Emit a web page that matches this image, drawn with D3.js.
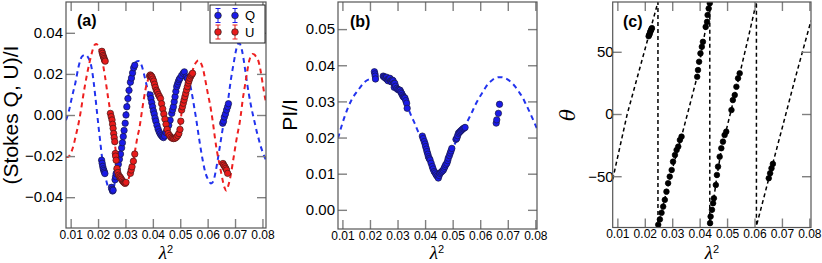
<!DOCTYPE html>
<html><head><meta charset="utf-8">
<script src="https://cdn.jsdelivr.net/npm/d3@7"></script>
<style>body{margin:0;background:#fff} svg{display:block}</style>
</head><body>
<svg id="c" width="822" height="263"></svg>
<script>
// ---------------- DATA ----------------
const xTicks = [0.01,0.02,0.03,0.04,0.05,0.06,0.07,0.08];
const yTicksA = [-0.04,-0.02,0.00,0.02,0.04];
const yTicksB = [0.00,0.01,0.02,0.03,0.04,0.05];
const yTicksC = [-50,0,50];

// model curves
const lamQfit = [0.0083,0.0093,0.0105,0.0117,0.0129,0.0141,0.0153,0.0166,0.0172,0.0178,0.0184,0.0190,0.0196,0.0202,0.0208,0.0214,0.0220,0.0226,0.0232,0.0238,0.0244,0.0250,0.0256,0.0262,0.0268,0.0274,0.0280,0.0286,0.0292,0.0298,0.0304,0.0310,0.0316,0.0322,0.0328,0.0334,0.0340,0.0347,0.0354,0.0360,0.0366,0.0372,0.0378,0.0384,0.0390,0.0396,0.0402,0.0408,0.0414,0.0420,0.0426,0.0432,0.0438,0.0444,0.0450,0.0456,0.0462,0.0468,0.0474,0.0480,0.0486,0.0492,0.0498,0.0504,0.0510,0.0516,0.0522,0.0528,0.0534,0.0540,0.0546,0.0552,0.0558,0.0564,0.0570,0.0576,0.0582,0.0588,0.0594,0.0600,0.0606,0.0612,0.0618,0.0624,0.0630,0.0636,0.0642,0.0648,0.0654,0.0660,0.0666,0.0672,0.0678,0.0684,0.0690,0.0696,0.0702,0.0708,0.0714,0.0720,0.0726,0.0732,0.0738,0.0744,0.0750,0.0756,0.0762,0.0768,0.0774,0.0780,0.0786,0.0792,0.0798,0.0804,0.0813];
const qFit = [-0.0025,0.0016,0.0089,0.0155,0.0236,0.0284,0.0293,0.0275,0.0255,0.0218,0.0160,0.0090,0.0015,-0.0060,-0.0130,-0.0200,-0.0250,-0.0295,-0.0330,-0.0355,-0.0368,-0.0372,-0.0362,-0.0320,-0.0280,-0.0240,-0.0190,-0.0140,-0.0090,-0.0040,0.0020,0.0085,0.0145,0.0190,0.0225,0.0248,0.0260,0.0263,0.0255,0.0238,0.0208,0.0175,0.0140,0.0110,0.0095,0.0060,0.0022,-0.0012,-0.0045,-0.0072,-0.0090,-0.0102,-0.0108,-0.0104,-0.0085,-0.0058,-0.0025,0.0005,0.0040,0.0082,0.0130,0.0160,0.0180,0.0196,0.0206,0.0211,0.0205,0.0188,0.0160,0.0122,0.0078,0.0030,-0.0018,-0.0072,-0.0125,-0.0175,-0.0220,-0.0260,-0.0290,-0.0310,-0.0325,-0.0333,-0.0328,-0.0308,-0.0270,-0.0225,-0.0175,-0.0125,-0.0075,-0.0030,0.0010,0.0050,0.0105,0.0165,0.0215,0.0260,0.0305,0.0338,0.0350,0.0340,0.0310,0.0265,0.0210,0.0155,0.0105,0.0060,0.0020,-0.0015,-0.0050,-0.0085,-0.0115,-0.0145,-0.0170,-0.0192,-0.0220];

const lamUfit = [0.0083,0.0090,0.0097,0.0104,0.0111,0.0118,0.0125,0.0132,0.0139,0.0146,0.0153,0.0160,0.0167,0.0174,0.0181,0.0188,0.0194,0.0200,0.0206,0.0212,0.0218,0.0224,0.0230,0.0236,0.0242,0.0248,0.0254,0.0260,0.0266,0.0272,0.0278,0.0284,0.0290,0.0296,0.0302,0.0308,0.0314,0.0320,0.0326,0.0332,0.0338,0.0344,0.0350,0.0356,0.0362,0.0368,0.0374,0.0380,0.0386,0.0392,0.0398,0.0404,0.0410,0.0416,0.0422,0.0428,0.0434,0.0440,0.0446,0.0452,0.0458,0.0464,0.0470,0.0476,0.0482,0.0488,0.0494,0.0500,0.0506,0.0512,0.0518,0.0524,0.0530,0.0536,0.0542,0.0548,0.0554,0.0560,0.0566,0.0572,0.0578,0.0584,0.0590,0.0596,0.0602,0.0608,0.0614,0.0620,0.0626,0.0632,0.0638,0.0644,0.0650,0.0656,0.0662,0.0668,0.0674,0.0680,0.0686,0.0692,0.0698,0.0704,0.0710,0.0716,0.0722,0.0728,0.0734,0.0740,0.0746,0.0752,0.0758,0.0764,0.0770,0.0776,0.0782,0.0788,0.0794,0.0800,0.0806,0.0813];
const uFit = [-0.0205,-0.0205,-0.0195,-0.0175,-0.0145,-0.0105,-0.0065,-0.0020,0.0035,0.0095,0.0150,0.0200,0.0245,0.0285,0.0320,0.0342,0.0346,0.0337,0.0315,0.0284,0.0245,0.0200,0.0145,0.0090,0.0040,-0.0005,-0.0060,-0.0125,-0.0190,-0.0240,-0.0278,-0.0305,-0.0323,-0.0333,-0.0330,-0.0322,-0.0300,-0.0272,-0.0238,-0.0198,-0.0150,-0.0105,-0.0070,-0.0020,0.0035,0.0085,0.0130,0.0162,0.0183,0.0193,0.0192,0.0180,0.0160,0.0135,0.0105,0.0075,0.0045,0.0015,-0.0015,-0.0045,-0.0072,-0.0092,-0.0105,-0.0110,-0.0108,-0.0098,-0.0080,-0.0045,0.0025,0.0060,0.0095,0.0130,0.0160,0.0185,0.0205,0.0228,0.0248,0.0260,0.0266,0.0262,0.0245,0.0220,0.0180,0.0138,0.0095,0.0057,0.0010,-0.0045,-0.0105,-0.0160,-0.0205,-0.0245,-0.0285,-0.0325,-0.0355,-0.0368,-0.0350,-0.0320,-0.0280,-0.0230,-0.0180,-0.0130,-0.0085,-0.0045,0.0010,0.0075,0.0125,0.0175,0.0225,0.0265,0.0287,0.0297,0.0295,0.0285,0.0275,0.0250,0.0210,0.0160,0.0110,0.0060];

const lamPIfit = [0.0084,0.0108,0.0133,0.0157,0.0181,0.0206,0.0224,0.0242,0.0266,0.0290,0.0303,0.0315,0.0327,0.0339,0.0351,0.0363,0.0375,0.0388,0.0400,0.0412,0.0424,0.0436,0.0448,0.0457,0.0466,0.0484,0.0503,0.0521,0.0539,0.0557,0.0570,0.0582,0.0594,0.0606,0.0618,0.0630,0.0642,0.0654,0.0667,0.0679,0.0691,0.0703,0.0715,0.0727,0.0739,0.0752,0.0764,0.0776,0.0788,0.0800,0.0806];
const piFit = [0.0198,0.0258,0.0304,0.0331,0.0354,0.0364,0.0368,0.0365,0.0356,0.0345,0.0333,0.0318,0.0300,0.0280,0.0258,0.0238,0.0216,0.0202,0.0177,0.0150,0.0126,0.0106,0.0093,0.0098,0.0113,0.0145,0.0175,0.0202,0.0226,0.0250,0.0270,0.0290,0.0307,0.0322,0.0337,0.0350,0.0358,0.0364,0.0367,0.0367,0.0364,0.0359,0.0351,0.0341,0.0328,0.0313,0.0295,0.0276,0.0256,0.0235,0.0224];

const lamThetaFit = [0.0083,0.0136,0.0192,0.0248,0.0248,0.0273,0.0298,0.0334,0.0365,0.0391,0.0412,0.0425,0.0437,0.0437,0.0449,0.0463,0.0479,0.0497,0.0516,0.0546,0.0577,0.0607,0.0607,0.0652,0.0700,0.0750,0.0806];
const thetaFit = [-52.5,0,45,90,-90,-68,-46,-18,8,30,57,72,90,-90,-72,-50,-29,-13,4,32,61,90,-90,-52,-12,30,75];

// observations
const lamQ = [0.0213,0.0215,0.0217,0.0219,0.0221,0.0223,0.0225,0.0249,0.0251,0.0253,0.0255,0.0262,0.0264,0.0266,0.0270,0.0274,0.0278,0.0282,0.0286,0.0289,0.0292,0.0295,0.0299,0.0302,0.0305,0.0309,0.0313,0.0318,0.0322,0.0326,0.0330,0.0334,
  0.0390,0.0393,0.0396,0.0399,0.0402,0.0405,0.0408,0.0411,0.0415,0.0419,0.0423,0.0427,0.0431,0.0435,0.0439,0.0443,0.0448,0.0452,0.0458,0.0463,0.0469,0.0472,0.0475,0.0478,0.0481,0.0484,0.0487,0.0490,0.0493,0.0496,0.0499,0.0505,0.0511,0.0515,0.0522,0.0526,
  0.0655,0.0658,0.0661,0.0665,0.0669,0.0673,0.0676];
const qObs = [-0.0220,-0.0235,-0.0250,-0.0262,-0.0270,-0.0278,-0.0285,-0.0352,-0.0362,-0.0370,-0.0366,-0.0315,-0.0300,-0.0285,-0.0265,-0.0240,-0.0215,-0.0190,-0.0160,-0.0135,-0.0105,-0.0075,-0.0040,0.0000,0.0040,0.0080,0.0120,0.0160,0.0180,0.0205,0.0230,0.0242,
  0.0098,0.0080,0.0060,0.0040,0.0020,0.0005,-0.0015,-0.0030,-0.0050,-0.0068,-0.0082,-0.0092,-0.0100,-0.0106,-0.0110,-0.0102,-0.0085,-0.0070,-0.0050,-0.0025,0.0008,0.0025,0.0040,0.0065,0.0089,0.0115,0.0138,0.0150,0.0162,0.0172,0.0179,0.0192,0.0203,0.0210,0.0185,0.0178,
  -0.0040,-0.0030,-0.0010,0.0005,0.0024,0.0040,0.0055];

const lamU = [0.0214,0.0216,0.0218,0.0220,0.0222,0.0224,0.0226,0.0245,0.0248,0.0251,0.0253,0.0255,0.0257,0.0259,0.0261,0.0263,0.0264,0.0266,0.0269,0.0272,0.0275,0.0279,0.0282,0.0285,0.0289,0.0293,0.0296,0.0299,0.0302,0.0318,0.0321,0.0324,0.0329,0.0334,
  0.0388,0.0391,0.0394,0.0397,0.0400,0.0403,0.0406,0.0409,0.0413,0.0416,0.0420,0.0424,0.0428,0.0432,0.0436,0.0440,0.0444,0.0448,0.0452,0.0456,0.0461,0.0466,0.0471,0.0476,0.0481,0.0486,0.0491,0.0495,0.0499,0.0502,0.0505,0.0508,0.0511,0.0514,0.0517,0.0520,0.0523,0.0526,0.0529,0.0532,0.0535,0.0539,0.0542,0.0545,
  0.0656,0.0659,0.0663,0.0666,0.0669,0.0673];
const uObs = [0.0310,0.0300,0.0290,0.0283,0.0275,0.0268,0.0262,0.0008,-0.0008,-0.0024,-0.0045,-0.0065,-0.0090,-0.0110,-0.0130,-0.0187,-0.0200,-0.0220,-0.0260,-0.0280,-0.0293,-0.0300,-0.0305,-0.0312,-0.0320,-0.0326,-0.0330,-0.0333,-0.0328,-0.0284,-0.0268,-0.0252,-0.0225,-0.0190,
  0.0190,0.0195,0.0190,0.0185,0.0175,0.0165,0.0150,0.0135,0.0120,0.0112,0.0100,0.0090,0.0080,0.0055,0.0030,0.0005,-0.0020,-0.0045,-0.0070,-0.0090,-0.0100,-0.0108,-0.0113,-0.0115,-0.0113,-0.0108,-0.0100,-0.0090,-0.0070,-0.0030,0.0024,0.0040,0.0057,0.0073,0.0089,0.0105,0.0122,0.0138,0.0155,0.0167,0.0179,0.0190,0.0197,0.0203,
  -0.0236,-0.0244,-0.0252,-0.0260,-0.0268,-0.0284];

const lamPI = [0.0216,0.0218,0.0219,0.0220,0.0248,0.0251,0.0254,0.0257,0.0260,0.0263,0.0266,0.0269,0.0272,0.0275,0.0278,0.0281,0.0284,0.0287,0.0288,0.0290,0.0293,0.0297,0.0301,0.0305,0.0309,0.0312,0.0315,0.0318,0.0321,0.0324,0.0327,0.0330,0.0333,0.0335,
  0.0390,0.0393,0.0397,0.0400,0.0402,0.0405,0.0407,0.0410,0.0412,0.0415,0.0418,0.0422,0.0426,0.0429,0.0433,0.0437,0.0440,0.0444,0.0448,0.0451,0.0454,0.0458,0.0462,0.0466,0.0469,0.0472,0.0475,0.0479,0.0482,0.0484,0.0488,0.0491,0.0494,0.0497,0.0512,0.0515,0.0518,0.0521,0.0525,0.0529,0.0533,0.0537,0.0541,0.0545,
  0.0658,0.0660,0.0666,0.0670];
const piObs = [0.0382,0.0376,0.0370,0.0362,0.0370,0.0368,0.0366,0.0364,0.0367,0.0360,0.0357,0.0362,0.0364,0.0356,0.0354,0.0359,0.0357,0.0350,0.0339,0.0350,0.0342,0.0336,0.0333,0.0332,0.0331,0.0326,0.0322,0.0317,0.0313,0.0311,0.0309,0.0302,0.0295,0.0281,
  0.0204,0.0197,0.0189,0.0182,0.0175,0.0168,0.0161,0.0154,0.0147,0.0142,0.0138,0.0129,0.0120,0.0113,0.0106,0.0102,0.0097,0.0093,0.0088,0.0095,0.0101,0.0104,0.0107,0.0110,0.0115,0.0120,0.0125,0.0129,0.0136,0.0143,0.0150,0.0157,0.0163,0.0170,0.0195,0.0198,0.0205,0.0212,0.0215,0.0218,0.0221,0.0224,0.0226,0.0228,
  0.0240,0.0249,0.0267,0.0292];

const lamTheta = [0.0214,0.0216,0.0218,0.0220,0.0222,0.0224,0.0226,
  0.0249,0.0255,0.0261,0.0267,0.0273,0.0279,0.0285,0.0291,0.0298,0.0303,0.0310,0.0316,0.0322,0.0328,0.0334,
  0.0391,0.0394,0.0398,0.0403,0.0408,0.0412,0.0422,0.0427,0.0429,0.0433,0.0437,
  0.0438,0.0440,0.0445,0.0449,0.0452,0.0459,0.0463,0.0467,0.0473,0.0479,0.0485,0.0491,0.0497,
  0.0516,0.0521,0.0528,0.0534,0.0540,0.0546,
  0.0652,0.0657,0.0662,0.0667];
const thetaObs = [62.5,63.5,64.5,66,67,68,69,
  -89,-84.7,-79.4,-74.4,-69,-62.4,-55.6,-50.3,-45,-38.3,-32.9,-28.9,-26.2,-20.9,-18.2,
  29.9,35.3,42,48.7,54,58,70,74,79.5,84.8,89,
  -87.7,-82.4,-77,-71.7,-67.7,-57,-49,-42.3,-34.3,-27.5,-22.2,-16.9,-14.2,
  3.2,11.2,15.2,21.9,28.7,32.7,
  -51.6,-47.6,-43.6,-40.1];

const errQU = 0.0012;
const errPI = 0.0008;

// ---------------- DRAWING ----------------
const svg = d3.select('#c');
const FONT = '"Liberation Sans", Arial, Helvetica, sans-serif';
const SERIF = '"Liberation Serif", "DejaVu Serif", serif';
const BLUE = '#1a1ae8', RED = '#e81a1a', BLUE_L = '#2233ee', RED_L = '#ee2020';

function frame(g, x, y, yTicks, fmt, labelOffset) {
  const [x0, x1] = x.range(), [y0, y1] = y.range();
  const tk = 9;
  const tickCol = '#808080';
  const bx = d3.axisBottom(x).tickValues(xTicks).tickSize(-tk).tickPadding(2).tickFormat(d3.format('.2f'));
  const gb = g.append('g').attr('transform', `translate(0,${y0})`).call(bx);
  const tx = d3.axisTop(x).tickValues(xTicks).tickSize(-tk).tickFormat('');
  const gt = g.append('g').attr('transform', `translate(0,${y1})`).call(tx);
  const ly = d3.axisLeft(y).tickValues(yTicks).tickSize(-tk).tickPadding(labelOffset).tickFormat(fmt);
  const gl = g.append('g').attr('transform', `translate(${x0},0)`).call(ly);
  const ry = d3.axisRight(y).tickValues(yTicks).tickSize(-tk).tickFormat('');
  const gr = g.append('g').attr('transform', `translate(${x1},0)`).call(ry);
  [gb, gt, gl, gr].forEach(a => {
    a.select('.domain').remove();
    a.selectAll('.tick line').attr('stroke', tickCol).attr('stroke-width', 1.4);
  });
  gb.selectAll('.tick text').attr('font-family', FONT).attr('font-size', 12).attr('fill', '#000');
  gl.selectAll('.tick text').attr('font-family', FONT).attr('font-size', 15).attr('fill', '#000');
  g.append('rect').attr('x', x0).attr('y', y1).attr('width', x1 - x0).attr('height', y0 - y1)
    .attr('fill', 'none').attr('stroke', '#555').attr('stroke-width', 1.2);
}

function xTitle(g, cx) {
  const t = g.append('text').attr('x', cx).attr('y', 259).attr('text-anchor', 'middle')
    .attr('font-family', SERIF).attr('font-size', 19);
  t.append('tspan').attr('font-style', 'italic').text('λ');
  t.append('tspan').attr('font-family', FONT).attr('font-size', 11).attr('dy', -6).text('2');
}

function clipFor(id, x, y) {
  const [x0, x1] = x.range(), [y0, y1] = y.range();
  svg.append('clipPath').attr('id', id).append('rect').attr('x', x0).attr('y', y1).attr('width', x1 - x0).attr('height', y0 - y1);
}

function fitLine(g, xs, ys, x, y, color, dash, width, curve) {
  const pts = xs.map((d, i) => [d, ys[i]]);
  g.append('path').datum(pts)
    .attr('d', d3.line().x(d => x(d[0])).y(d => y(d[1])).curve(curve))
    .attr('fill', 'none').attr('stroke', color).attr('stroke-width', width).attr('stroke-dasharray', dash);
}

function points(g, xs, ys, x, y, fill, stroke, r, err, errCol) {
  const pts = xs.map((d, i) => [d, ys[i]]);
  if (err) {
    g.append('g').selectAll('path').data(pts).join('path')
      .attr('d', d => `M${x(d[0])},${y(d[1] - err)}V${y(d[1] + err)}`)
      .attr('stroke', errCol).attr('stroke-width', 0.8).attr('fill', 'none');
  }
  g.append('g').selectAll('circle').data(pts).join('circle')
    .attr('cx', d => x(d[0])).attr('cy', d => y(d[1])).attr('r', r)
    .attr('fill', fill).attr('stroke', stroke).attr('stroke-width', 0.7);
}

// ---------- Panel (a) ----------
{
  const x = d3.scaleLinear().domain([0.0083, 0.0813]).range([66, 266]);
  const y = d3.scaleLinear().domain([-0.055, 0.055]).range([228, 2]);
  clipFor('clipA', x, y);
  const g = svg.append('g');
  const gp = g.append('g').attr('clip-path', 'url(#clipA)');
  fitLine(gp, lamQfit, qFit, x, y, BLUE_L, '5,4', 2, d3.curveMonotoneX);
  fitLine(gp, lamUfit, uFit, x, y, RED_L, '5,4', 2, d3.curveMonotoneX);
  points(gp, lamQ, qObs, x, y, BLUE, '#1a1a40', 3.2, errQU, BLUE);
  points(gp, lamU, uObs, x, y, RED, '#401a1a', 3.2, errQU, RED);
  frame(g, x, y, yTicksA, d3.format('.2f'), 3);
  g.append('text').attr('x', 77).attr('y', 26).attr('font-family', FONT).attr('font-weight', 'bold').attr('font-size', 16).text('(a)');
  xTitle(g, 166);
  g.append('text').attr('transform', 'translate(18,115) rotate(-90)').attr('text-anchor', 'middle')
    .attr('font-family', FONT).attr('font-size', 21).text('(Stokes Q, U)/I');
  const lg = g.append('g');
  lg.append('rect').attr('x', 210).attr('y', 5).attr('width', 55).attr('height', 38)
    .attr('fill', '#fff').attr('stroke', '#222').attr('stroke-width', 1);
  const rows = [{k: 'Q', c: BLUE, yy: 15.5}, {k: 'U', c: RED, yy: 32}];
  rows.forEach(r => {
    [218, 235].forEach(px => {
      lg.append('path').attr('d', `M${px},${r.yy - 7}V${r.yy + 7}M${px - 2.5},${r.yy - 7}H${px + 2.5}M${px - 2.5},${r.yy + 7}H${px + 2.5}`)
        .attr('stroke', r.c).attr('stroke-width', 1).attr('fill', 'none');
      lg.append('circle').attr('cx', px).attr('cy', r.yy).attr('r', 3.3).attr('fill', r.c).attr('stroke', '#222').attr('stroke-width', 0.7);
    });
    lg.append('text').attr('x', 245).attr('y', r.yy + 4.5).attr('font-family', FONT).attr('font-size', 13).text(r.k);
  });
}

// ---------- Panel (b) ----------
{
  const x = d3.scaleLinear().domain([0.0084, 0.0806]).range([338, 537]);
  const y = d3.scaleLinear().domain([-0.0053, 0.0575]).range([229, 2]);
  clipFor('clipB', x, y);
  const g = svg.append('g');
  const gp = g.append('g').attr('clip-path', 'url(#clipB)');
  fitLine(gp, lamPIfit, piFit, x, y, BLUE_L, '5,4', 2, d3.curveMonotoneX);
  points(gp, lamPI, piObs, x, y, BLUE, '#1a1a40', 3.2, errPI, BLUE);
  frame(g, x, y, yTicksB, d3.format('.2f'), 3);
  g.append('text').attr('x', 350).attr('y', 27).attr('font-family', FONT).attr('font-weight', 'bold').attr('font-size', 16).text('(b)');
  xTitle(g, 437);
  g.append('text').attr('transform', 'translate(297,115) rotate(-90)').attr('text-anchor', 'middle')
    .attr('font-family', FONT).attr('font-size', 21).text('PI/I');
}

// ---------- Panel (c) ----------
{
  const x = d3.scaleLinear().domain([0.0083, 0.0806]).range([612.7, 811]);
  const y = d3.scaleLinear().domain([-91.2, 90]).range([227.5, 2]);
  clipFor('clipC', x, y);
  const g = svg.append('g');
  const gp = g.append('g').attr('clip-path', 'url(#clipC)');
  fitLine(gp, lamThetaFit, thetaFit, x, y, '#000', '4,3', 1.5, d3.curveLinear);
  points(gp, lamTheta, thetaObs, x, y, '#000', '#000', 2.8, 0, null);
  frame(g, x, y, yTicksC, d3.format('d'), -1);
  g.append('text').attr('x', 623).attr('y', 27).attr('font-family', FONT).attr('font-weight', 'bold').attr('font-size', 16).text('(c)');
  xTitle(g, 712);
  g.append('text').attr('transform', 'translate(575,115) rotate(-90)').attr('text-anchor', 'middle')
    .attr('font-family', '"DejaVu Serif", "Liberation Serif", serif').attr('font-style', 'italic').attr('font-size', 20).text('θ');
}
</script>
</body></html>
